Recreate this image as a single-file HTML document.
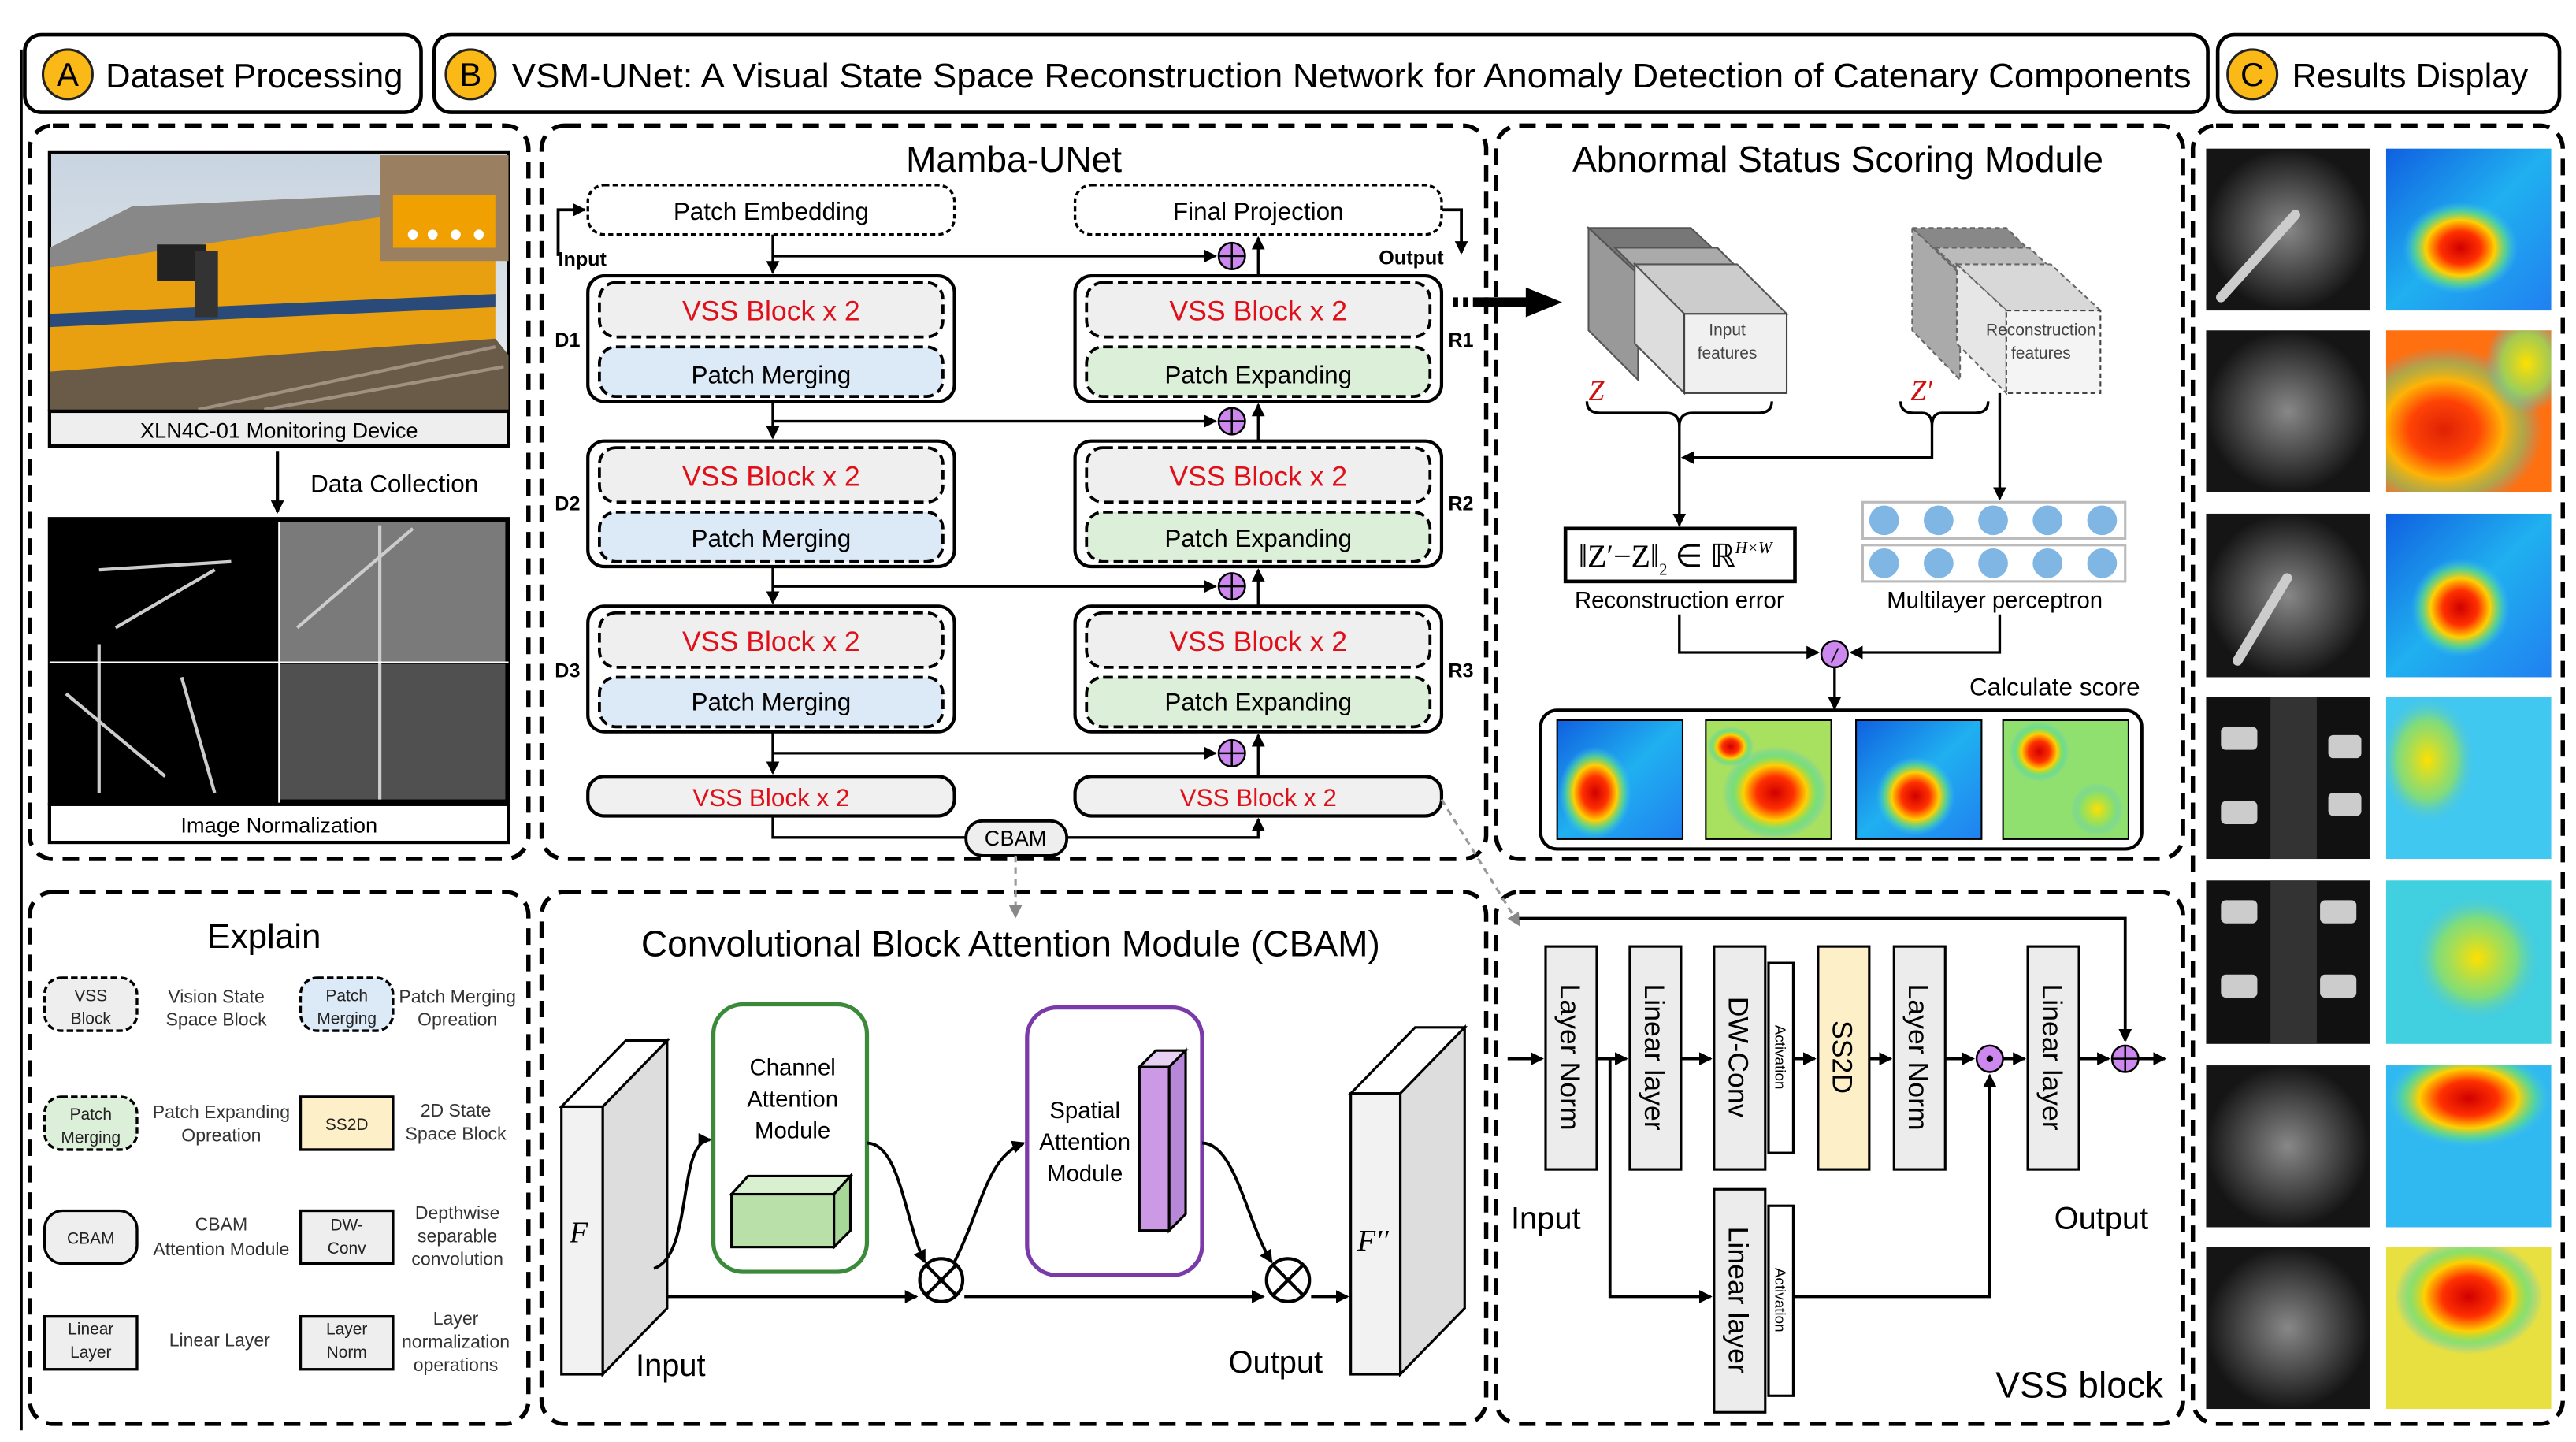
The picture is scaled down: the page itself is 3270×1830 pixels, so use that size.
<!DOCTYPE html>
<html><head><meta charset="utf-8"><style>
html,body{margin:0;padding:0;background:#fff;width:3270px;height:1830px;overflow:hidden}
svg{display:block}
text{font-family:"Liberation Sans",sans-serif}
.ser{font-family:"Liberation Serif",serif}
</style></head><body>
<svg width="3270" height="1830" viewBox="0 0 1560 873" xmlns="http://www.w3.org/2000/svg">
<defs>
<marker id="ar" markerWidth="8" markerHeight="8" refX="7" refY="4" orient="auto" markerUnits="userSpaceOnUse"><path d="M0,0 L8,4 L0,8 z" fill="#000"/></marker>
<marker id="arg" markerWidth="8" markerHeight="8" refX="7" refY="4" orient="auto" markerUnits="userSpaceOnUse"><path d="M0,0 L8,4 L0,8 z" fill="#888"/></marker>
<radialGradient id="hot"><stop offset="0" stop-color="#d00000"/><stop offset="0.35" stop-color="#ff3000"/><stop offset="0.6" stop-color="#ffd000"/><stop offset="0.8" stop-color="#60e080" stop-opacity="0.7"/><stop offset="1" stop-color="#40c0ff" stop-opacity="0"/></radialGradient>
<radialGradient id="warm"><stop offset="0" stop-color="#ffe000"/><stop offset="0.6" stop-color="#90e060" stop-opacity="0.8"/><stop offset="1" stop-color="#40c0ff" stop-opacity="0"/></radialGradient>
<linearGradient id="blue" x1="0" y1="0" x2="1" y2="1"><stop offset="0" stop-color="#1060e0"/><stop offset="0.5" stop-color="#20b0f0"/><stop offset="1" stop-color="#2080f0"/></linearGradient>
<linearGradient id="sky" x1="0" y1="0" x2="0" y2="1"><stop offset="0" stop-color="#c8d4e0"/><stop offset="1" stop-color="#e8ecef"/></linearGradient>
<radialGradient id="gray"><stop offset="0" stop-color="#888"/><stop offset="0.6" stop-color="#444"/><stop offset="1" stop-color="#151515"/></radialGradient>
<clipPath id="c1"><rect x="1445" y="90" width="100" height="98"/></clipPath>
<clipPath id="c2"><rect x="1445" y="200" width="100" height="98"/></clipPath>
<clipPath id="c3"><rect x="1445" y="311" width="100" height="99"/></clipPath>
<clipPath id="c4"><rect x="1445" y="422" width="100" height="98"/></clipPath>
<clipPath id="c5"><rect x="1445" y="533" width="100" height="99"/></clipPath>
<clipPath id="c6"><rect x="1445" y="645" width="100" height="98"/></clipPath>
<clipPath id="c7"><rect x="1445" y="755" width="100" height="98"/></clipPath>
<clipPath id="ct"><rect x="30" y="92" width="278" height="156"/></clipPath>
</defs>
<rect width="1560" height="873" fill="#fff"/>
<line x1="13" y1="30" x2="13" y2="866" stroke="#000" stroke-width="1.5"/>

<!-- Headers -->
<g stroke="#000" stroke-width="2.2" fill="#fff">
<rect x="15" y="21" width="240" height="47" rx="10"/>
<rect x="263" y="21" width="1074" height="47" rx="10"/>
<rect x="1343" y="21" width="207" height="47" rx="10"/>
</g>
<g stroke="#222" stroke-width="1.5" fill="#fbb917">
<circle cx="41" cy="45" r="15"/><circle cx="285" cy="45" r="15"/><circle cx="1364" cy="45" r="15"/>
</g>
<g font-size="20" text-anchor="middle"><text x="41" y="52">A</text><text x="285" y="52">B</text><text x="1364" y="52">C</text></g>
<text x="64" y="53" font-size="21" textLength="180" lengthAdjust="spacingAndGlyphs">Dataset Processing</text>
<text x="310" y="53" font-size="21" textLength="1017" lengthAdjust="spacingAndGlyphs">VSM-UNet: A Visual  State Space Reconstruction Network for Anomaly Detection of Catenary Components</text>
<text x="1388" y="53" font-size="21" textLength="143" lengthAdjust="spacingAndGlyphs">Results Display</text>

<!-- Dashed panels -->
<g fill="none" stroke="#000" stroke-width="2.6" stroke-dasharray="10 6">
<rect x="18" y="76" width="302" height="444" rx="14"/>
<rect x="328" y="76" width="572" height="444" rx="14"/>
<rect x="906" y="76" width="416" height="444" rx="14"/>
<rect x="1328" y="76" width="224" height="786" rx="14"/>
<rect x="18" y="540" width="302" height="322" rx="14"/>
<rect x="328" y="540" width="572" height="322" rx="14"/>
<rect x="906" y="540" width="416" height="322" rx="14"/>
</g>

<!-- Panel A -->
<rect x="30" y="92" width="278" height="156" fill="url(#sky)" stroke="#000" stroke-width="2"/>
<g clip-path="url(#ct)">
<path d="M30,150 L80,125 L230,118 L300,150 L300,215 L30,232 z" fill="#e8a010"/>
<path d="M30,150 L80,125 L230,118 L240,130 L30,162 z" fill="#888"/>
<path d="M30,190 L300,178 L300,186 L30,198 z" fill="#2a4a7a"/>
<rect x="95" y="148" width="30" height="22" fill="#222"/>
<rect x="118" y="152" width="14" height="40" fill="#333"/>
<path d="M30,225 L300,205 L308,215 L308,248 L30,248 z" fill="#6a5a48"/>
<path d="M120,248 L300,210 M160,248 L305,222" stroke="#a09080" stroke-width="2"/>
<rect x="230" y="94" width="78" height="64" fill="#9a8060"/>
<rect x="238" y="118" width="62" height="32" fill="#f0a000"/>
<circle cx="250" cy="142" r="3" fill="#fff"/><circle cx="262" cy="142" r="3" fill="#fff"/><circle cx="276" cy="142" r="3" fill="#fff"/><circle cx="290" cy="142" r="3" fill="#fff"/>
</g>
<rect x="30" y="249" width="278" height="21" fill="#eee" stroke="#000" stroke-width="2"/>
<text x="169" y="265" font-size="13" text-anchor="middle">XLN4C-01 Monitoring Device</text>
<line x1="168" y1="273" x2="168" y2="310" stroke="#000" stroke-width="2" marker-end="url(#ar)"/>
<text x="188" y="298" font-size="15">Data Collection</text>
<rect x="30" y="314" width="278" height="172" fill="#000" stroke="#000" stroke-width="2"/>
<rect x="169" y="316" width="137" height="85" fill="#7a7a7a"/>
<rect x="169" y="402" width="137" height="82" fill="#505050"/>
<g stroke="#ccc" stroke-width="2"><line x1="60" y1="345" x2="140" y2="340"/><line x1="70" y1="380" x2="130" y2="345"/><line x1="60" y1="390" x2="60" y2="480"/><line x1="40" y1="420" x2="100" y2="470"/><line x1="110" y1="410" x2="130" y2="480"/><line x1="180" y1="380" x2="250" y2="320"/><line x1="230" y1="318" x2="230" y2="484"/></g>
<line x1="169" y1="316" x2="169" y2="486" stroke="#fff"/><line x1="30" y1="401" x2="308" y2="401" stroke="#fff"/>
<rect x="30" y="487" width="278" height="23" fill="#fff" stroke="#000" stroke-width="2"/>
<text x="169" y="504" font-size="13" text-anchor="middle">Image Normalization</text>

<!-- Mamba-UNet -->
<text x="614" y="104" font-size="22" text-anchor="middle">Mamba-UNet</text>
<g fill="#fff" stroke="#000" stroke-width="1.6" stroke-dasharray="3 2">
<rect x="356" y="112" width="222" height="30" rx="10"/><rect x="651" y="112" width="222" height="30" rx="10"/>
</g>
<text x="467" y="133" font-size="15" text-anchor="middle">Patch Embedding</text>
<text x="762" y="133" font-size="15" text-anchor="middle">Final Projection</text>
<path d="M338,155 L338,127 L354,127" fill="none" stroke="#000" stroke-width="1.8" marker-end="url(#ar)"/>
<path d="M873,127 L885,127 L885,153" fill="none" stroke="#000" stroke-width="1.8" marker-end="url(#ar)"/>
<text x="338" y="161" font-size="12" font-weight="bold">Input</text>
<text x="835" y="160" font-size="12" font-weight="bold">Output</text>
<g font-size="12" font-weight="bold"><text x="336" y="210">D1</text><text x="336" y="309">D2</text><text x="336" y="410">D3</text><text x="877" y="210">R1</text><text x="877" y="309">R2</text><text x="877" y="410">R3</text></g>
<g stroke="#000" stroke-width="2" fill="#fff">
<rect x="356" y="167" width="222" height="76" rx="10"/><rect x="356" y="267" width="222" height="76" rx="10"/><rect x="356" y="367" width="222" height="76" rx="10"/>
<rect x="651" y="167" width="222" height="76" rx="10"/><rect x="651" y="267" width="222" height="76" rx="10"/><rect x="651" y="367" width="222" height="76" rx="10"/>
<rect x="356" y="470" width="222" height="24" rx="10" fill="#f0f0f0"/><rect x="651" y="470" width="222" height="24" rx="10" fill="#f0f0f0"/>
</g>
<g stroke="#000" stroke-width="1.8" stroke-dasharray="6 3">
<rect x="363" y="171" width="208" height="33" rx="10" fill="#efefef"/><rect x="363" y="210" width="208" height="30" rx="10" fill="#dce9f6"/>
<rect x="363" y="271" width="208" height="33" rx="10" fill="#efefef"/><rect x="363" y="310" width="208" height="30" rx="10" fill="#dce9f6"/>
<rect x="363" y="371" width="208" height="33" rx="10" fill="#efefef"/><rect x="363" y="410" width="208" height="30" rx="10" fill="#dce9f6"/>
<rect x="658" y="171" width="208" height="33" rx="10" fill="#efefef"/><rect x="658" y="210" width="208" height="30" rx="10" fill="#dcefd8"/>
<rect x="658" y="271" width="208" height="33" rx="10" fill="#efefef"/><rect x="658" y="310" width="208" height="30" rx="10" fill="#dcefd8"/>
<rect x="658" y="371" width="208" height="33" rx="10" fill="#efefef"/><rect x="658" y="410" width="208" height="30" rx="10" fill="#dcefd8"/>
</g>
<g font-size="17" fill="#e0101a" text-anchor="middle">
<text x="467" y="194">VSS Block x 2</text><text x="467" y="294">VSS Block x 2</text><text x="467" y="394">VSS Block x 2</text>
<text x="762" y="194">VSS Block x 2</text><text x="762" y="294">VSS Block x 2</text><text x="762" y="394">VSS Block x 2</text>
<text x="467" y="488" font-size="15">VSS Block x 2</text><text x="762" y="488" font-size="15">VSS Block x 2</text>
</g>
<g font-size="15" text-anchor="middle">
<text x="467" y="232" font-family="Liberation Mono,monospace">Patch Merging</text><text x="467" y="331">Patch Merging</text><text x="467" y="430">Patch Merging</text>
<text x="762" y="232" font-family="Liberation Mono,monospace">Patch Expanding</text><text x="762" y="331">Patch Expanding</text><text x="762" y="430">Patch Expanding</text>
</g>
<g stroke="#000" stroke-width="1.6" fill="none">
<line x1="468" y1="142" x2="468" y2="165" marker-end="url(#ar)"/>
<line x1="468" y1="243" x2="468" y2="265" marker-end="url(#ar)"/>
<line x1="468" y1="343" x2="468" y2="365" marker-end="url(#ar)"/>
<line x1="468" y1="443" x2="468" y2="468" marker-end="url(#ar)"/>
<line x1="468" y1="155" x2="736" y2="155" marker-end="url(#ar)"/>
<line x1="468" y1="255" x2="736" y2="255" marker-end="url(#ar)"/>
<line x1="468" y1="355" x2="736" y2="355" marker-end="url(#ar)"/>
<line x1="468" y1="456" x2="736" y2="456" marker-end="url(#ar)"/>
<line x1="762" y1="167" x2="762" y2="144" marker-end="url(#ar)"/>
<line x1="762" y1="267" x2="762" y2="245" marker-end="url(#ar)"/>
<line x1="762" y1="367" x2="762" y2="345" marker-end="url(#ar)"/>
<line x1="762" y1="470" x2="762" y2="445" marker-end="url(#ar)"/>
<path d="M468,494 L468,507 L585,507"/>
<path d="M646,507 L762,507 L762,496" marker-end="url(#ar)"/>
</g>
<g fill="#cc88ee" stroke="#000" stroke-width="1.2">
<circle cx="746" cy="155" r="8"/><circle cx="746" cy="255" r="8"/><circle cx="746" cy="355" r="8"/><circle cx="746" cy="456" r="8"/>
</g>
<g stroke="#000" stroke-width="1.2">
<path d="M738,155h16M746,147v16M738,255h16M746,247v16M738,355h16M746,347v16M738,456h16M746,448v16"/>
</g>
<rect x="585" y="497" width="61" height="21" rx="10" fill="#eee" stroke="#000" stroke-width="1.8"/>
<text x="615" y="512" font-size="13" text-anchor="middle">CBAM</text>
<path d="M880,180 h3 v6 h-3z M886,180 h3 v6 h-3z M892,180 h32 v-6 l22,9 l-22,9 v-6 h-32z" fill="#000"/>
<line x1="615" y1="518" x2="615" y2="555" stroke="#999" stroke-width="1.5" stroke-dasharray="4 3" marker-end="url(#arg)"/>
<line x1="873" y1="484" x2="920" y2="560" stroke="#999" stroke-width="1.5" stroke-dasharray="4 3" marker-end="url(#arg)"/>

<!-- Abnormal Status Scoring -->
<text x="1113" y="104" font-size="22" text-anchor="middle">Abnormal Status Scoring Module</text>
<g stroke="#555" stroke-width="1">
<path d="M962,138 L1024,138 L1054,166 L992,166 z" fill="#777"/>
<path d="M962,138 L992,166 L992,230 L962,200 z" fill="#999"/>
<path d="M978,150 L1040,150 L1062,172 L1000,172 z" fill="#aaa"/>
<path d="M990,160 L1052,160 L1082,190 L1020,190 z" fill="#ccc"/>
<path d="M990,160 L1020,190 L1020,238 L990,208 z" fill="#ddd"/>
<rect x="1020" y="190" width="62" height="48" fill="#f0f0f0" stroke="#444"/>
</g>
<text x="1046" y="203" font-size="10" text-anchor="middle" fill="#444">Input</text>
<text x="1046" y="217" font-size="10" text-anchor="middle" fill="#444">features</text>
<g stroke="#666" stroke-width="1" stroke-dasharray="3 2">
<path d="M1158,138 L1215,138 L1244,166 L1187,166 z" fill="#888"/>
<path d="M1158,138 L1187,166 L1187,230 L1158,200 z" fill="#aaa"/>
<path d="M1172,150 L1229,150 L1252,172 L1195,172 z" fill="#bbb"/>
<path d="M1185,160 L1242,160 L1272,188 L1215,188 z" fill="#d8d8d8"/>
<path d="M1185,160 L1215,188 L1215,238 L1185,208 z" fill="#e6e6e6"/>
<rect x="1215" y="188" width="57" height="50" fill="#f4f4f4" stroke="#444"/>
</g>
<text x="1236" y="203" font-size="10" text-anchor="middle" fill="#444">Reconstruction</text>
<text x="1236" y="217" font-size="10" text-anchor="middle" fill="#444">features</text>
<text x="962" y="242" font-size="17" fill="#d01010" font-style="italic" class="ser">Z</text>
<text x="1157" y="242" font-size="17" fill="#d01010" font-style="italic" class="ser">Z′</text>
<g fill="none" stroke="#000" stroke-width="1.6">
<path d="M961,243 q0,7 8,7 h40 q8,0 8,8 q0,-8 8,-8 h40 q8,0 8,-7"/>
<path d="M1151,243 q0,7 8,7 h5 q6,0 6,8 q0,-8 6,-8 h20 q8,0 8,-7"/>
<line x1="1017" y1="258" x2="1017" y2="318" marker-end="url(#ar)"/>
<path d="M1170,258 L1170,277 L1019,277" marker-end="url(#ar)"/>
<line x1="1211" y1="238" x2="1211" y2="302" marker-end="url(#ar)"/>
<path d="M1017,372 L1017,395 L1101,395" marker-end="url(#ar)"/>
<path d="M1211,372 L1211,395 L1121,395" marker-end="url(#ar)"/>
<line x1="1111" y1="404" x2="1111" y2="429" marker-end="url(#ar)"/>
</g>
<rect x="948" y="320" width="139" height="32" fill="#fff" stroke="#000" stroke-width="2.2"/>
<text x="956" y="343" font-size="19" class="ser">‖Z′−Z‖<tspan font-size="10" dy="5">2</tspan><tspan dy="-5"> ∈ ℝ</tspan><tspan font-size="10" dy="-8" font-style="italic">H×W</tspan></text>
<g fill="#fff" stroke="#bbb" stroke-width="1.5"><rect x="1128" y="304" width="159" height="22"/><rect x="1128" y="330" width="159" height="22"/></g>
<g fill="#7fb6e4"><circle cx="1141" cy="315" r="9"/><circle cx="1174" cy="315" r="9"/><circle cx="1207" cy="315" r="9"/><circle cx="1240" cy="315" r="9"/><circle cx="1273" cy="315" r="9"/>
<circle cx="1141" cy="341" r="9"/><circle cx="1174" cy="341" r="9"/><circle cx="1207" cy="341" r="9"/><circle cx="1240" cy="341" r="9"/><circle cx="1273" cy="341" r="9"/></g>
<text x="1017" y="368" font-size="14" text-anchor="middle">Reconstruction error</text>
<text x="1208" y="368" font-size="14" text-anchor="middle">Multilayer perceptron</text>
<circle cx="1111" cy="396" r="8" fill="#cc88ee" stroke="#000" stroke-width="1.2"/>
<text x="1111" y="401" font-size="12" text-anchor="middle" font-style="italic">/</text>
<text x="1296" y="421" font-size="15" text-anchor="end">Calculate score</text>
<rect x="933" y="430" width="364" height="84" rx="10" fill="#fff" stroke="#000" stroke-width="2"/>
<g stroke="#000" stroke-width="1">
<rect x="943" y="436" width="76" height="72" fill="url(#blue)"/>
<rect x="1033" y="436" width="76" height="72" fill="#a8e060"/>
<rect x="1124" y="436" width="76" height="72" fill="url(#blue)"/>
<rect x="1213" y="436" width="76" height="72" fill="#90e070"/>
</g>
<ellipse cx="966" cy="480" rx="22" ry="28" fill="url(#hot)"/>
<ellipse cx="1075" cy="480" rx="32" ry="28" fill="url(#hot)"/>
<ellipse cx="1048" cy="452" rx="14" ry="12" fill="url(#hot)"/>
<ellipse cx="1160" cy="482" rx="24" ry="24" fill="url(#hot)"/>
<ellipse cx="1235" cy="455" rx="18" ry="18" fill="url(#hot)"/>
<ellipse cx="1270" cy="490" rx="16" ry="16" fill="url(#warm)"/>

<!-- Results C -->
<g>
<rect x="1336" y="90" width="99" height="98" fill="url(#gray)"/><rect x="1445" y="90" width="100" height="98" fill="url(#blue)"/>
<rect x="1336" y="200" width="99" height="98" fill="url(#gray)"/><rect x="1445" y="200" width="100" height="98" fill="#ff7010"/>
<rect x="1336" y="311" width="99" height="99" fill="url(#gray)"/><rect x="1445" y="311" width="100" height="99" fill="url(#blue)"/>
<rect x="1336" y="422" width="99" height="98" fill="#111"/><rect x="1445" y="422" width="100" height="98" fill="#40c8f0"/>
<rect x="1336" y="533" width="99" height="99" fill="#111"/><rect x="1445" y="533" width="100" height="99" fill="#40d0e0"/>
<rect x="1336" y="645" width="99" height="98" fill="url(#gray)"/><rect x="1445" y="645" width="100" height="98" fill="#30b8f0"/>
<rect x="1336" y="755" width="99" height="98" fill="url(#gray)"/><rect x="1445" y="755" width="100" height="98" fill="#e8e040"/>
</g>
<ellipse cx="1490" cy="150" rx="35" ry="28" fill="url(#hot)" clip-path="url(#c1)"/>
<g clip-path="url(#c2)"><ellipse cx="1480" cy="260" rx="60" ry="50" fill="url(#hot)" opacity="0.7"/><ellipse cx="1530" cy="220" rx="25" ry="30" fill="url(#warm)"/></g>
<ellipse cx="1490" cy="368" rx="30" ry="30" fill="url(#hot)" clip-path="url(#c3)"/>
<ellipse cx="1470" cy="460" rx="30" ry="40" fill="url(#warm)" clip-path="url(#c4)"/>
<ellipse cx="1500" cy="580" rx="40" ry="40" fill="url(#warm)" clip-path="url(#c5)"/>
<ellipse cx="1495" cy="665" rx="50" ry="30" fill="url(#hot)" clip-path="url(#c6)"/>
<ellipse cx="1495" cy="785" rx="45" ry="35" fill="url(#hot)" clip-path="url(#c7)"/>
<g stroke="#ccc" stroke-width="6" stroke-linecap="round"><line x1="1345" y1="180" x2="1390" y2="130"/><line x1="1355" y1="400" x2="1385" y2="350"/></g>
<g fill="#ccc"><rect x="1345" y="440" width="22" height="14" rx="3"/><rect x="1345" y="485" width="22" height="14" rx="3"/><rect x="1410" y="445" width="20" height="14" rx="3"/><rect x="1410" y="480" width="20" height="14" rx="3"/>
<rect x="1345" y="545" width="22" height="14" rx="3"/><rect x="1345" y="590" width="22" height="14" rx="3"/><rect x="1405" y="545" width="22" height="14" rx="3"/><rect x="1405" y="590" width="22" height="14" rx="3"/></g>
<rect x="1375" y="422" width="28" height="98" fill="#333"/><rect x="1375" y="533" width="28" height="99" fill="#333"/>

<!-- Explain -->
<text x="160" y="574" font-size="21" text-anchor="middle">Explain</text>
<g stroke="#000" stroke-width="1.6">
<rect x="27" y="592" width="56" height="32" rx="10" fill="#eee" stroke-dasharray="4 2"/>
<rect x="182" y="592" width="56" height="32" rx="10" fill="#dce9f6" stroke-dasharray="4 2"/>
<rect x="27" y="664" width="56" height="32" rx="10" fill="#dcefd8" stroke-dasharray="4 2"/>
<rect x="182" y="664" width="56" height="32" fill="#fdf0c8"/>
<rect x="27" y="733" width="56" height="32" rx="11" fill="#eee"/>
<rect x="182" y="733" width="56" height="32" fill="#eee"/>
<rect x="27" y="797" width="56" height="32" fill="#eee"/>
<rect x="182" y="797" width="56" height="32" fill="#eee"/>
</g>
<g font-size="10" text-anchor="middle" fill="#222">
<text x="55" y="606">VSS</text><text x="55" y="620">Block</text>
<text x="210" y="606">Patch</text><text x="210" y="620">Merging</text>
<text x="55" y="678">Patch</text><text x="55" y="692">Merging</text>
<text x="210" y="684">SS2D</text>
<text x="55" y="753">CBAM</text>
<text x="210" y="745">DW-</text><text x="210" y="759">Conv</text>
<text x="55" y="808">Linear</text><text x="55" y="822">Layer</text>
<text x="210" y="808">Layer</text><text x="210" y="822">Norm</text>
</g>
<g font-size="11" text-anchor="middle" fill="#333" font-family="Liberation Serif,serif">
<text x="131" y="607">Vision State</text><text x="131" y="621">Space Block</text>
<text x="277" y="607">Patch Merging</text><text x="277" y="621">Opreation</text>
<text x="134" y="677">Patch Expanding</text><text x="134" y="691">Opreation</text>
<text x="276" y="676">2D State</text><text x="276" y="690">Space Block</text>
<text x="134" y="745">CBAM</text><text x="134" y="760">Attention  Module</text>
<text x="277" y="738">Depthwise</text><text x="277" y="752">separable</text><text x="277" y="766">convolution</text>
<text x="133" y="815">Linear Layer</text>
<text x="276" y="802">Layer</text><text x="276" y="816">normalization</text><text x="276" y="830">operations</text>
</g>

<!-- CBAM -->
<text x="612" y="579" font-size="22" text-anchor="middle">Convolutional Block Attention Module (CBAM)</text>
<g stroke="#000" stroke-width="1.5">
<path d="M340,670 L365,670 L404,630 L379,630 z" fill="#fff"/>
<path d="M365,670 L404,630 L404,792 L365,832 z" fill="#ddd"/>
<rect x="340" y="670" width="25" height="162" fill="#f2f2f2"/>
<path d="M818,662 L848,662 L887,622 L857,622 z" fill="#fff"/>
<path d="M848,662 L887,622 L887,792 L848,832 z" fill="#ddd"/>
<rect x="818" y="662" width="30" height="170" fill="#f2f2f2"/>
</g>
<text x="345" y="752" font-size="18" font-style="italic" class="ser">F</text>
<text x="822" y="757" font-size="18" font-style="italic" class="ser">F′′</text>
<rect x="432" y="608" width="93" height="162" rx="18" fill="#fff" stroke="#3a8a3a" stroke-width="2.5"/>
<rect x="622" y="610" width="106" height="162" rx="18" fill="#fff" stroke="#7a3aaa" stroke-width="2.5"/>
<g font-size="14" text-anchor="middle"><text x="480" y="651">Channel</text><text x="480" y="670">Attention</text><text x="480" y="689">Module</text>
<text x="657" y="677">Spatial</text><text x="657" y="696">Attention</text><text x="657" y="715">Module</text></g>
<g stroke="#000" stroke-width="1.5">
<path d="M443,723 L505,723 L515,712 L453,712 z" fill="#d8f0d0"/><path d="M505,723 L515,712 L515,745 L505,755 z" fill="#a8d898"/><rect x="443" y="723" width="62" height="32" fill="#b8e0a8"/>
<path d="M690,646 L708,646 L718,636 L700,636 z" fill="#e8d0f4"/><path d="M708,646 L718,636 L718,735 L708,745 z" fill="#b888d8"/><rect x="690" y="646" width="18" height="99" fill="#cc99e4"/>
</g>
<g fill="none" stroke="#000" stroke-width="1.8">
<line x1="404" y1="785" x2="555" y2="785" marker-end="url(#ar)"/>
<line x1="584" y1="785" x2="765" y2="785" marker-end="url(#ar)"/>
<line x1="794" y1="785" x2="816" y2="785" marker-end="url(#ar)"/>
<path d="M396,768 C420,760 410,690 430,690" marker-end="url(#ar)"/>
<path d="M525,692 C545,692 548,740 560,764" marker-end="url(#ar)"/>
<path d="M578,764 C595,730 598,700 620,692" marker-end="url(#ar)"/>
<path d="M728,692 C748,692 755,740 770,764" marker-end="url(#ar)"/>
</g>
<g fill="#fff" stroke="#000" stroke-width="2"><circle cx="570" cy="775" r="13"/><circle cx="780" cy="775" r="13"/></g>
<path d="M561,766 L579,784 M579,766 L561,784 M771,766 L789,784 M789,766 L771,784" stroke="#000" stroke-width="2"/>
<text x="385" y="833" font-size="19">Input</text>
<text x="744" y="831" font-size="19">Output</text>

<!-- VSS block -->
<g fill="none" stroke="#000" stroke-width="1.8">
<path d="M920,556 L1287,556 L1287,630" marker-end="url(#ar)"/>
<line x1="913" y1="641" x2="934" y2="641" marker-end="url(#ar)"/>
<line x1="967" y1="641" x2="985" y2="641" marker-end="url(#ar)"/>
<line x1="1018" y1="641" x2="1036" y2="641" marker-end="url(#ar)"/>
<line x1="1086" y1="641" x2="1099" y2="641" marker-end="url(#ar)"/>
<line x1="1132" y1="641" x2="1145" y2="641" marker-end="url(#ar)"/>
<line x1="1178" y1="641" x2="1195" y2="641" marker-end="url(#ar)"/>
<line x1="1213" y1="641" x2="1226" y2="641" marker-end="url(#ar)"/>
<line x1="1259" y1="641" x2="1277" y2="641" marker-end="url(#ar)"/>
<line x1="1295" y1="641" x2="1311" y2="641" marker-end="url(#ar)"/>
<path d="M975,641 L975,785 L1036,785" marker-end="url(#ar)"/>
<path d="M1086,785 L1205,785 L1205,651" marker-end="url(#ar)"/>
</g>
<g stroke="#000" stroke-width="1.5">
<rect x="936" y="573" width="31" height="135" fill="#ececec"/>
<rect x="987" y="573" width="31" height="135" fill="#ececec"/>
<rect x="1038" y="573" width="31" height="135" fill="#ececec"/>
<rect x="1071" y="583" width="15" height="115" fill="#fff"/>
<rect x="1101" y="573" width="31" height="135" fill="#fdf0c8"/>
<rect x="1147" y="573" width="31" height="135" fill="#ececec"/>
<rect x="1228" y="573" width="31" height="135" fill="#ececec"/>
<rect x="1038" y="720" width="31" height="135" fill="#ececec"/>
<rect x="1071" y="730" width="15" height="115" fill="#fff"/>
</g>
<g font-size="17" text-anchor="middle">
<text transform="translate(945,640) rotate(90)">Layer Norm</text>
<text transform="translate(996,640) rotate(90)">Linear layer</text>
<text transform="translate(1047,640) rotate(90)">DW-Conv</text>
<text transform="translate(1110,640) rotate(90)">SS2D</text>
<text transform="translate(1156,640) rotate(90)">Layer Norm</text>
<text transform="translate(1237,640) rotate(90)">Linear layer</text>
<text transform="translate(1047,787) rotate(90)">Linear layer</text>
<text transform="translate(1075,640) rotate(90)" font-size="9">Activation</text>
<text transform="translate(1075,787) rotate(90)" font-size="9">Activation</text>
</g>
<g fill="#cc88ee" stroke="#000" stroke-width="1.2"><circle cx="1205" cy="641" r="8"/><circle cx="1287" cy="641" r="8"/></g>
<circle cx="1205" cy="641" r="2" fill="#000"/>
<path d="M1279,641h16M1287,633v16" stroke="#000" stroke-width="1.2"/>
<text x="915" y="744" font-size="19">Input</text>
<text x="1244" y="744" font-size="19">Output</text>
<text x="1310" y="846" font-size="22" text-anchor="end">VSS block</text>
</svg>
</body></html>
